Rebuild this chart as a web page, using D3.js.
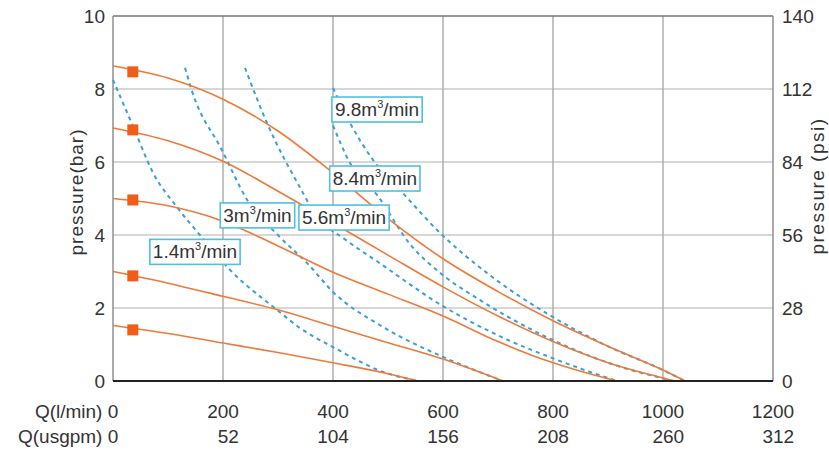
<!DOCTYPE html>
<html><head><meta charset="utf-8">
<script src="https://cdn.jsdelivr.net/npm/d3@7"></script>
<style>
html,body{margin:0;padding:0;background:#fff;}
svg{display:block;}
text{font-family:"Liberation Sans",Arial,Helvetica,sans-serif;fill:#333;}
</style></head>
<body><svg id="chart" width="829" height="452"></svg>
<script>
// ---- data ----
const flowTicks = [0, 200, 400, 600, 800, 1000, 1200];        // l/min
const gpmTicks  = [0, 52, 104, 156, 208, 260, 312];            // usgpm
const barTicks  = [0, 2, 4, 6, 8, 10];
const psiTicks  = [0, 28, 56, 84, 112, 140];

// pressure curves (orange) : [Q l/min, P bar]
const curveA = [[0,8.63],[100,8.3],[200,7.72],[300,6.85],[400,5.7],[500,4.45],[600,3.35],[700,2.45],[800,1.65],[900,0.95],[1000,0.3],[1040,0]];
const curveB = [[0,6.93],[100,6.58],[200,6.02],[300,5.2],[400,4.33],[500,3.45],[600,2.58],[700,1.78],[800,1.08],[900,0.5],[1000,0.08],[1020,0]];
const curveC = [[0,5.0],[100,4.8],[200,4.38],[300,3.7],[400,2.98],[500,2.38],[600,1.78],[700,1.08],[800,0.5],[916,0]];
const curveD = [[0,3.0],[100,2.68],[200,2.32],[300,1.95],[400,1.5],[500,1.05],[600,0.6],[709,0]];
const curveE = [[0,1.52],[100,1.3],[200,1.04],[300,0.78],[400,0.5],[500,0.2],[555,0]];
const pressureCurves = [curveA, curveB, curveC, curveD, curveE];

// markers on the pressure curves
const markerQ = [36, 36, 36, 36, 36];
const markerP = [8.47, 6.88, 4.96, 2.88, 1.40];

// air consumption curves (blue dashed)
const air14 = [[0,8.25],[37,6.96],[73,5.7],[116,4.77],[158,4.0],[213,3.04],[298,1.95],[340,1.45],[400,0.93],[491,0.25],[555,0]];
const air30 = [[131,8.58],[143,7.97],[198,6.33],[244,4.96],[303,3.95],[353,3.23],[400,2.44],[491,1.48],[600,0.66],[709,0]];
const air56 = [[240,8.58],[280,7.07],[340,5.3],[371,4.5],[420,3.9],[480,3.28],[600,2.05],[700,1.25],[800,0.62],[916,0]];
const air84 = [[400,7.0],[431,5.97],[480,5.1],[540,3.75],[595,2.96],[667,2.22],[800,1.12],[900,0.5],[1020,0]];
const air98 = [[400,8.03],[431,7.07],[473,6.05],[527,5.15],[595,4.05],[680,2.96],[800,1.75],[900,0.95],[1000,0.3],[1040,0]];
const airCurves = [air14, air30, air56, air84, air98];

// labels of air curves: text, anchor (Q, P) of box top-left
const airLabelNum = ["1.4", "3", "5.6", "8.4", "9.8"];
const airLabelQ   = [67, 195, 338, 394, 398];
const airLabelP   = [3.88, 4.88, 4.82, 5.89, 7.78];

// ---- drawing ----
const svg = d3.select("#chart");
const x = d3.scaleLinear().domain([0,1200]).range([113,773]);
const y = d3.scaleLinear().domain([0,10]).range([381,16]);
const yR = d3.scaleLinear().domain([0,140]).range([381,16]);

// grid
const grid = svg.append("g");
grid.selectAll("line.v").data(flowTicks.filter(d=>d>0 && d<1200)).join("line")
  .attr("x1",d=>x(d)).attr("x2",d=>x(d)).attr("y1",y(10)).attr("y2",y(0))
  .attr("stroke","#9a9a9a").attr("stroke-width",1.2);
grid.selectAll("line.h").data(barTicks.filter(d=>d>0 && d<10)).join("line")
  .attr("x1",x(0)).attr("x2",x(1200)).attr("y1",d=>y(d)).attr("y2",d=>y(d))
  .attr("stroke","#b0b0b0").attr("stroke-width",1.2);
// frame
grid.append("line").attr("x1",x(0)).attr("x2",x(1200)).attr("y1",y(10)).attr("y2",y(10)).attr("stroke","#777").attr("stroke-width",1.6);
grid.append("line").attr("x1",x(1200)).attr("x2",x(1200)).attr("y1",y(10)).attr("y2",y(0)).attr("stroke","#888").attr("stroke-width",1.4);
grid.append("line").attr("x1",x(0)).attr("x2",x(0)).attr("y1",y(10)).attr("y2",y(0)).attr("stroke","#888").attr("stroke-width",1.4);

const line = d3.line().x(d=>x(d[0])).y(d=>y(d[1])).curve(d3.curveMonotoneX);

// air curves
svg.append("g").selectAll("path").data(airCurves).join("path")
  .attr("d",line).attr("fill","none").attr("stroke","#3a9fd8")
  .attr("stroke-width",2).attr("stroke-dasharray","4,4");

// pressure curves
svg.append("g").selectAll("path").data(pressureCurves).join("path")
  .attr("d",line).attr("fill","none").attr("stroke","#ec7a3a")
  .attr("stroke-width",1.6);

// bottom axis line
svg.append("line").attr("x1",x(0)).attr("x2",x(1200)).attr("y1",y(0)).attr("y2",y(0)).attr("stroke","#222").attr("stroke-width",2);

// markers
svg.append("g").selectAll("rect").data(markerQ.map((q,i)=>[q,markerP[i]])).join("rect")
  .attr("x",d=>x(d[0])-5.5).attr("y",d=>y(d[1])-5.5).attr("width",11).attr("height",11)
  .attr("fill","#f25c16");

// air labels
const lab = svg.append("g");
airLabelNum.forEach((t,i)=>{
  const bx = x(airLabelQ[i]), by = y(airLabelP[i]);
  const g = lab.append("g");
  const rect = g.append("rect").attr("fill","#fff").attr("stroke","#4fc0e0").attr("stroke-width",1.6);
  const txt = g.append("text").attr("x",bx+3).attr("y",by+19).attr("font-size",19).attr("fill","#222");
  txt.append("tspan").text(t+"m");
  txt.append("tspan").text("3").attr("font-size",11).attr("dy",-8);
  txt.append("tspan").text("/min").attr("dy",8);
  const w = txt.node().getComputedTextLength();
  rect.attr("x",bx).attr("y",by).attr("width",w+6).attr("height",25);
});

// left ticks
const fs = 19;
svg.append("g").selectAll("text").data(barTicks).join("text")
  .attr("x",x(0)-8).attr("y",d=>y(d)+7).attr("text-anchor","end").attr("font-size",fs)
  .text(d=>d);
// right ticks
svg.append("g").selectAll("text").data(psiTicks).join("text")
  .attr("x",x(1200)+9).attr("y",d=>yR(d)+7).attr("text-anchor","start").attr("font-size",fs)
  .text(d=>d);

// bottom ticks
const bt = svg.append("g");
flowTicks.forEach((f,i)=>{
  const cx = x(f);
  const probe = bt.append("text").attr("font-size",fs).text(f);
  const w = probe.node().getComputedTextLength();
  probe.remove();
  const right = cx + w/2;
  bt.append("text").attr("x",right).attr("y",418).attr("text-anchor","end").attr("font-size",fs)
    .text(i===0 ? "Q(l/min) " + f : f);
  bt.append("text").attr("x",right).attr("y",443).attr("text-anchor","end").attr("font-size",fs)
    .text(i===0 ? "Q(usgpm) " + gpmTicks[i] : gpmTicks[i]);
});

// axis titles
svg.append("text").attr("transform","translate(83,192) rotate(-90)").attr("text-anchor","middle")
  .attr("font-size",19).attr("letter-spacing",1).text("pressure(bar)");
svg.append("text").attr("transform","translate(824,186) rotate(-90)").attr("text-anchor","middle")
  .attr("font-size",19).attr("letter-spacing",1.5).text("pressure (psi)");
</script></body></html>
